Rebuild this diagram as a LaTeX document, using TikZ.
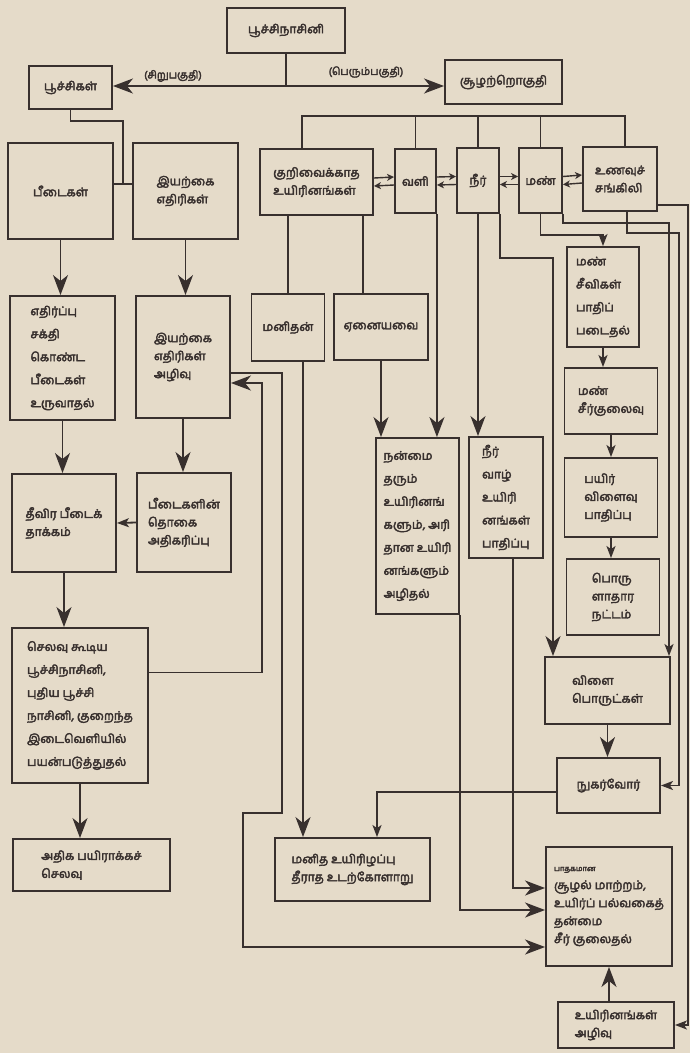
\documentclass[tikz,border=0pt]{standalone}
\usepackage{fontspec}
\setmainfont[Script=Tamil, BoldFont={Hind Madurai}, BoldFeatures={FakeBold=3.2}]{Hind Madurai}
\usetikzlibrary{arrows.meta}
\definecolor{paper}{RGB}{229,219,201}
\definecolor{ink}{RGB}{56,48,46}
\tikzset{
    box/.style={draw=ink, line width=1.9pt, align=left, text=ink, inner sep=2pt,
        font=\bfseries\fontsize{12}{18}\selectfont},
    tall/.style={font=\bfseries\fontsize{12}{23}\selectfont},
    lbl/.style={text=ink, font=\bfseries\fontsize{10.5}{12}\selectfont},
    link/.style={draw=ink, line width=1.8pt},
    arr/.style={link, -{Stealth[length=20pt, width=15pt, inset=6pt]}},
    sarr/.style={link, -{Stealth[length=12pt, width=9pt, inset=3pt]}},
    tip/.style={draw=ink, line width=1.4pt, -{Stealth[length=7pt, width=7pt, inset=2pt]}},
}
\begin{document}
\begin{tikzpicture}[x=1pt, y=-1pt]
    \fill[paper] (0,0) rectangle (690,1053);
    \useasboundingbox (0,0) rectangle (690,1053);

    % top row
    \node[box, minimum width=118pt, minimum height=45pt] (pn) at (286,30.5) {பூச்சிநாசினி};
    \node[box, minimum width=83pt, minimum height=43pt] (insects) at (70.5,87.5) {பூச்சிகள்};
    \node[box, minimum width=117pt, minimum height=44pt] (eco) at (503.5,82) {சூழற்றொகுதி};
    \node[lbl] (small) at (173,76) {(சிறுபகுதி)};
    \node[lbl] (large) at (366,72) {(பெரும்பகுதி)};

    % left columns
    \node[box, minimum width=105pt, minimum height=96pt] (pests) at (60.5,191) {பீடைகள்};
    \node[box, minimum width=105pt, minimum height=96pt] (enemies) at (185.5,191) {இயற்கை\\எதிரிகள்};
    \node[box, tall, minimum width=105pt, minimum height=124pt] (resist) at (62.5,358) {எதிர்ப்பு\\சக்தி\\கொண்ட\\பீடைகள்\\உருவாதல்};
    \node[box, minimum width=94pt, minimum height=122pt] (enloss) at (183,357) {இயற்கை\\எதிரிகள்\\அழிவு};
    \node[box, minimum width=104pt, minimum height=98pt] (severe) at (64,523) {தீவிர பீடைக்\\தாக்கம்};
    \node[box, minimum width=94pt, minimum height=99pt] (pestpop) at (184,522.5) {பீடைகளின்\\தொகை\\அதிகரிப்பு};
    \node[box, tall, minimum width=136pt, minimum height=155pt] (spray) at (80,705.5) {செலவு கூடிய\\பூச்சிநாசினி,\\புதிய பூச்சி\\நாசினி, குறைந்த\\இடைவெளியில்\\பயன்படுத்துதல்};
    \node[box, minimum width=157pt, minimum height=52pt] (cost) at (91.5,865) {அதிக பயிராக்கச்\\செலவு};

    % environment row
    \node[box, minimum width=113pt, minimum height=66pt] (nontarget) at (316.5,182) {குறிவைக்காத\\உயிரினங்கள்};
    \node[box, minimum width=41pt, minimum height=64pt] (air) at (415.5,181) {வளி};
    \node[box, minimum width=42pt, minimum height=65pt] (water) at (478,180.5) {நீர்};
    \node[box, minimum width=43pt, minimum height=65pt] (soil) at (540.5,180.5) {மண்};
    \node[box, minimum width=74pt, minimum height=64pt] (food) at (620,179) {உணவுச்\\சங்கிலி};

    % middle
    \node[box, minimum width=73pt, minimum height=67pt] (human) at (288,327.5) {மனிதன்};
    \node[box, minimum width=94pt, minimum height=66pt] (others) at (381,327) {ஏனையவை};
    \node[box, tall, minimum width=83pt, minimum height=176pt] (benef) at (417.5,526) {நன்மை\\தரும்\\உயிரினங்\\களும், அரி\\தான உயிரி\\னங்களும்\\அழிதல்};
    \node[box, tall, minimum width=74pt, minimum height=121pt] (aquatic) at (506,497.5) {நீர்\\வாழ்\\உயிரி\\னங்கள்\\பாதிப்பு};
    \node[box, minimum width=155pt, minimum height=63pt] (health) at (352.5,869.5) {மனித உயிரிழப்பு\\தீராத உடற்கோளாறு};

    % right column
    \node[box, tall, minimum width=72pt, minimum height=100pt] (biota) at (603,297) {மண்\\சீவிகள்\\பாதிப்\\படைதல்};
    \node[box, minimum width=93pt, minimum height=66pt] (soildeg) at (611,401) {மண்\\சீர்குலைவு};
    \node[box, minimum width=93pt, minimum height=79pt] (crop) at (611,497.5) {பயிர்\\விளைவு\\பாதிப்பு};
    \node[box, minimum width=93pt, minimum height=76pt] (econ) at (613,597) {பொரு\\ளாதார\\நட்டம்};
    \node[box, minimum width=125pt, minimum height=67pt] (produce) at (607.5,690.5) {விளை\\பொருட்கள்};
    \node[box, minimum width=103pt, minimum height=55pt] (consumer) at (608.5,785.5) {நுகர்வோர்};
    \node[box, minimum width=126pt, minimum height=119pt] (harm) at (609,906.5) {{\fontsize{7.5}{12}\selectfont பாதகமான}\\சூழல் மாற்றம்,\\உயிர்ப் பல்வகைத்\\தன்மை\\சீர் குலைதல்};
    \node[box, minimum width=116pt, minimum height=46pt] (extinct) at (616,1025) {உயிரினங்கள்\\அழிவு};

    % pesticide split
    \coordinate (split) at (286,86);
    \draw[link] (pn.south) -- (split);
    \draw[arr] (split) -- (split -| insects.east);
    \draw[arr] (split) -- (split -| eco.west);

    % insects to pests and enemies
    \coordinate (ibus) at (123,184);
    \draw[link] (insects.south) |- (123,121) -- (ibus);
    \draw[link] (pests.east |- ibus) -- (enemies.west |- ibus);

    % left chains
    \draw[arr] (pests.south) -- (pests.south |- resist.north);
    \draw[arr] (enemies.south) -- (enemies.south |- enloss.north);
    \draw[arr] (resist.south) -- (resist.south |- severe.north);
    \draw[arr] (enloss.south) -- (enloss.south |- pestpop.north);
    \draw[sarr] (pestpop.west) -- (severe.east);
    \draw[arr] (severe.south) -- (severe.south |- spray.north);
    \draw[arr] (spray.south) -- (spray.south |- cost.north);

    % feedback and long path
    \coordinate (fb) at (262,383);
    \draw[arr] ([yshift=33pt]spray.east) -| (fb) -- (fb -| enloss.east);
    \coordinate (e1) at (282,813);
    \coordinate (e2) at (243,947);
    \draw[arr] ([yshift=-16pt]enloss.east) -| (e1) -| (e2) -- (e2 -| harm.west);

    % environment bus
    \coordinate (bus) at (0,116);
    \draw[link] ([xshift=-14.5pt]nontarget.north) |- ([xshift=5pt]food.north |- bus) -- ([xshift=5pt]food.north);
    \foreach \n in {air, water, soil}
        \draw[link] (\n.north) -- (\n.north |- bus);
    \foreach \a/\b in {nontarget/air, air/water, water/soil, soil/food}
    {
        \draw[tip] ([yshift=4pt]\a.east) -- ([yshift=4pt]\b.west);
        \draw[tip] ([yshift=-4pt]\b.west) -- ([yshift=-4pt]\a.east);
    }

    % downward links
    \draw[link] (human.north) -- (human.north |- nontarget.south);
    \draw[link] ([xshift=-18pt]others.north) -- ([xshift=-18pt]others.north |- nontarget.south);
    \draw[arr] (air.south east) -- (air.south east |- benef.north);
    \draw[arr] (others.south) -- (others.south |- benef.north);
    \draw[arr] (water.south) -- (water.south |- aquatic.north);
    \coordinate (wp) at (553,258);
    \draw[arr] (water.south east) |- (wp) -- (wp |- produce.north);
    \draw[arr] ([xshift=15pt]human.south) -- ([xshift=15pt]human.south |- health.north);

    % soil and food chain lines
    \coordinate (sb) at (0,235);
    \draw[sarr] (soil.south) |- (sb -| biota.north) -- (biota.north);
    \coordinate (sp) at (669,223);
    \draw[sarr] (soil.south east) |- (sp) -- (sp |- produce.north);
    \coordinate (fc) at (679,233);
    \draw[sarr] ([xshift=7pt]food.south) |- (fc) -- (fc |- consumer.east) -- (consumer.east);
    \coordinate (fe) at (688,205);
    \draw[sarr] ([yshift=-26pt]food.east) -- (fe) -- (fe |- extinct.east) -- (extinct.east);

    % right chain
    \draw[sarr] (biota.south) -- (biota.south |- soildeg.north);
    \draw[sarr] (soildeg.south) -- (crop.north);
    \draw[sarr] (crop.south) -- (crop.south |- econ.north);
    \draw[arr] (produce.south) -- (produce.south |- consumer.north);
    \draw[sarr] ([yshift=-6.5pt]consumer.west) -| ([xshift=24.5pt]health.north);

    % into harm box
    \draw[arr] ([xshift=7pt]aquatic.south) |- ([yshift=18.5pt]harm.west);
    \draw[arr] (benef.south east) |- ([yshift=-3.5pt]harm.west);
    \draw[arr] (harm.south |- extinct.north) -- (harm.south);
\end{tikzpicture}
\end{document}
